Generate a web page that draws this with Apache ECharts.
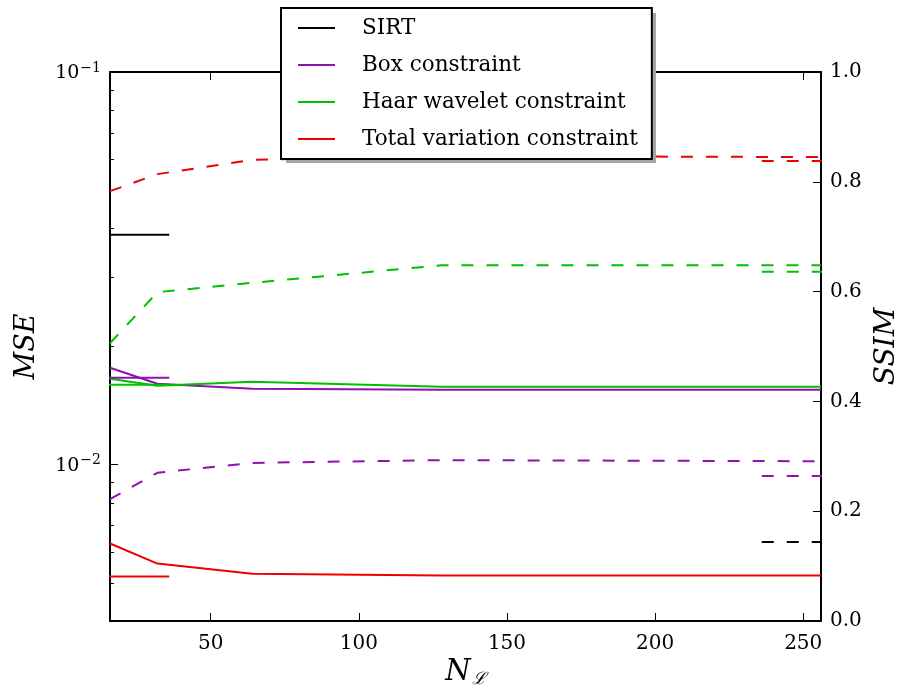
<!DOCTYPE html>
<html>
<head>
<meta charset="utf-8">
<script src="https://cdn.jsdelivr.net/npm/echarts@6/dist/echarts.min.js"></script>
<style>html,body{margin:0;padding:0;background:#fff;}#chart{width:898px;height:688px;}</style>
</head>
<body>
<div id="chart"></div>
<script>
// ---- data ----
const xValues = [16, 32, 64, 128, 256];
const boxMSE  = [0.01765, 0.01607, 0.01561, 0.01552, 0.01552];
const haarMSE = [0.01655, 0.01589, 0.01626, 0.01580, 0.01580];
const tvMSE   = [0.00630, 0.00560, 0.00528, 0.00522, 0.00522];
const boxSSIM  = [0.222, 0.270, 0.288, 0.293, 0.291];
const haarSSIM = [0.506, 0.599, 0.616, 0.648, 0.648];
const tvSSIM   = [0.783, 0.814, 0.840, 0.847, 0.845];
// reference (SIRT / single-value) levels
const refMSE  = { sirt: 0.0385, box: 0.01665, haar: 0.01598, tv: 0.00519 };
const refSSIM = { sirt: 0.144, box: 0.264, haar: 0.636, tv: 0.838 };
const refLeftX  = [-4, 36];
const refRightX = [236, 275];
const xTicks = [50, 100, 150, 200, 250];
const logMajor = [0.01, 0.1];
const logMinor = [0.005, 0.006, 0.007, 0.008, 0.009, 0.02, 0.03, 0.04, 0.05, 0.06, 0.07, 0.08, 0.09];
const names = ['SIRT', 'Box constraint', 'Haar wavelet constraint', 'Total variation constraint'];
const colors = { sirt: '#000000', box: '#9010b0', haar: '#00c000', tv: '#ee0000' };

const FONT = 'DejaVu Serif';
const DASH = [12, 13];

function curve(name, color, ys, axis, dashed) {
  return {
    type: 'line', name: name, yAxisIndex: axis, xAxisIndex: 0,
    data: xValues.map((x, i) => [x, ys[i]]),
    symbol: 'none', clip: false, silent: true,
    lineStyle: { color: color, width: 2, type: dashed ? DASH : 'solid' },
    itemStyle: { color: color }, z: 3
  };
}
function ref(name, color, v, xs, axis, dashed) {
  return {
    type: 'line', name: name, yAxisIndex: axis, xAxisIndex: 0,
    data: xs.map(x => [x, v]),
    symbol: 'none', clip: false, silent: true,
    lineStyle: { color: color, width: 2, type: dashed ? DASH : 'solid' },
    itemStyle: { color: color }, z: 3
  };
}

const series = [
  ref(names[0], colors.sirt, refMSE.sirt, refLeftX, 0, false),
  curve(names[1], colors.box, boxMSE, 0, false),
  curve(names[2], colors.haar, haarMSE, 0, false),
  curve(names[3], colors.tv, tvMSE, 0, false),
  ref(names[0], colors.sirt, refSSIM.sirt, refRightX, 1, true),
  ref(names[1], colors.box, refMSE.box, refLeftX, 0, false),
  ref(names[2], colors.haar, refMSE.haar, refLeftX, 0, false),
  ref(names[3], colors.tv, refMSE.tv, refLeftX, 0, false),
  curve(names[1], colors.box, boxSSIM, 1, true),
  curve(names[2], colors.haar, haarSSIM, 1, true),
  curve(names[3], colors.tv, tvSSIM, 1, true),
  ref(names[1], colors.box, refSSIM.box, refRightX, 1, true),
  ref(names[2], colors.haar, refSSIM.haar, refRightX, 1, true),
  ref(names[3], colors.tv, refSSIM.tv, refRightX, 1, true)
];

const LEG = { left: 281, top: 8, width: 370, height: 150 };

const axisLine = { show: true, onZero: false, lineStyle: { color: '#000', width: 2 } };
const chart = echarts.init(document.getElementById('chart'), null, { renderer: 'canvas' });
chart.setOption({
  animation: false,
  backgroundColor: '#fff',
  grid: { left: 110, right: 77, top: 72, bottom: 67, containLabel: false, outerBoundsMode: 'none' },
  graphic: [{
    type: 'rect', z: 9, silent: true,
    shape: { x: LEG.left + 5, y: LEG.top + 5, width: LEG.width, height: LEG.height },
    style: { fill: '#a6a6a6' }
  }],
  legend: {
    data: names,
    orient: 'vertical',
    left: LEG.left, top: LEG.top,
    padding: [9, 14, 9, 17],
    itemWidth: 37, itemHeight: 20, itemGap: 15,
    backgroundColor: '#fff',
    borderColor: '#000', borderWidth: 2, borderRadius: 0,
    icon: 'path://M0,9 L37,9 L37,11 L0,11 Z',
    lineStyle: { type: 'solid' },
    textStyle: { fontFamily: FONT, fontSize: 21.5, color: '#000', padding: [0, 0, 0, 22] },
    selectedMode: false, z: 10
  },
  xAxis: [
    {
      type: 'value', position: 'bottom', min: 16, max: 256,
      axisLine: axisLine,
      axisTick: { show: true, inside: true, length: 8, customValues: xTicks, lineStyle: { color: '#000', width: 1 } },
      axisLabel: { show: true, customValues: xTicks, margin: 13, fontFamily: FONT, fontSize: 20, color: '#000' },
      splitLine: { show: false },
      name: '{n|N}{s|ℒ}', nameLocation: 'middle', nameGap: 37, nameMoveOverlap: false,
      nameTextStyle: {
        rich: {
          n: { fontFamily: FONT, fontStyle: 'italic', fontSize: 29, lineHeight: 30, verticalAlign: 'top', color: '#000' },
          s: { fontFamily: FONT, fontStyle: 'italic', fontSize: 17, lineHeight: 17, padding: [19, 0, 0, 1], verticalAlign: 'bottom', color: '#000' }
        }
      }
    },
    {
      type: 'value', position: 'top', min: 16, max: 256,
      axisLine: axisLine,
      axisTick: { show: true, inside: true, length: 8, customValues: xTicks, lineStyle: { color: '#000', width: 1 } },
      axisLabel: { show: false },
      splitLine: { show: false }
    }
  ],
  yAxis: [
    {
      type: 'log', logBase: 10, position: 'left', min: 0.004, max: 0.1,
      axisLine: axisLine,
      axisTick: { show: true, inside: true, length: 8, customValues: logMajor, lineStyle: { color: '#000', width: 1 } },
      axisLabel: {
        show: true, customValues: logMajor, margin: 9,
        formatter: v => (Math.abs(v - 0.1) < 1e-9 ? '{b|10}{s|−1}' : '{b|10}{s|−2}'),
        rich: {
          b: { fontFamily: FONT, fontSize: 19, lineHeight: 22, verticalAlign: 'bottom', color: '#000' },
          s: { fontFamily: FONT, fontSize: 14, lineHeight: 14, padding: [0, 0, 10, 1], verticalAlign: 'top', color: '#000' }
        }
      },
      splitLine: { show: false },
      name: 'MSE', nameLocation: 'middle', nameGap: 70, nameRotate: 90,
      nameTextStyle: { fontFamily: FONT, fontStyle: 'italic', fontSize: 27, color: '#000' }
    },
    {
      type: 'value', position: 'right', min: 0, max: 1, interval: 0.2,
      axisLine: axisLine,
      axisTick: { show: true, inside: true, length: 8, lineStyle: { color: '#000', width: 1 } },
      axisLabel: { show: true, margin: 9, formatter: v => v.toFixed(1), fontFamily: FONT, fontSize: 20, color: '#000' },
      splitLine: { show: false },
      name: 'SSIM', nameLocation: 'middle', nameGap: 42, nameRotate: 90,
      nameTextStyle: { fontFamily: FONT, fontStyle: 'italic', fontSize: 28, color: '#000' }
    },
    {
      type: 'log', logBase: 10, position: 'left', min: 0.004, max: 0.1,
      axisLine: { show: false },
      axisTick: { show: true, inside: true, length: 4, customValues: logMinor, lineStyle: { color: '#000', width: 1 } },
      axisLabel: { show: false },
      splitLine: { show: false }
    }
  ],
  series: series
});
</script>
</body>
</html>
